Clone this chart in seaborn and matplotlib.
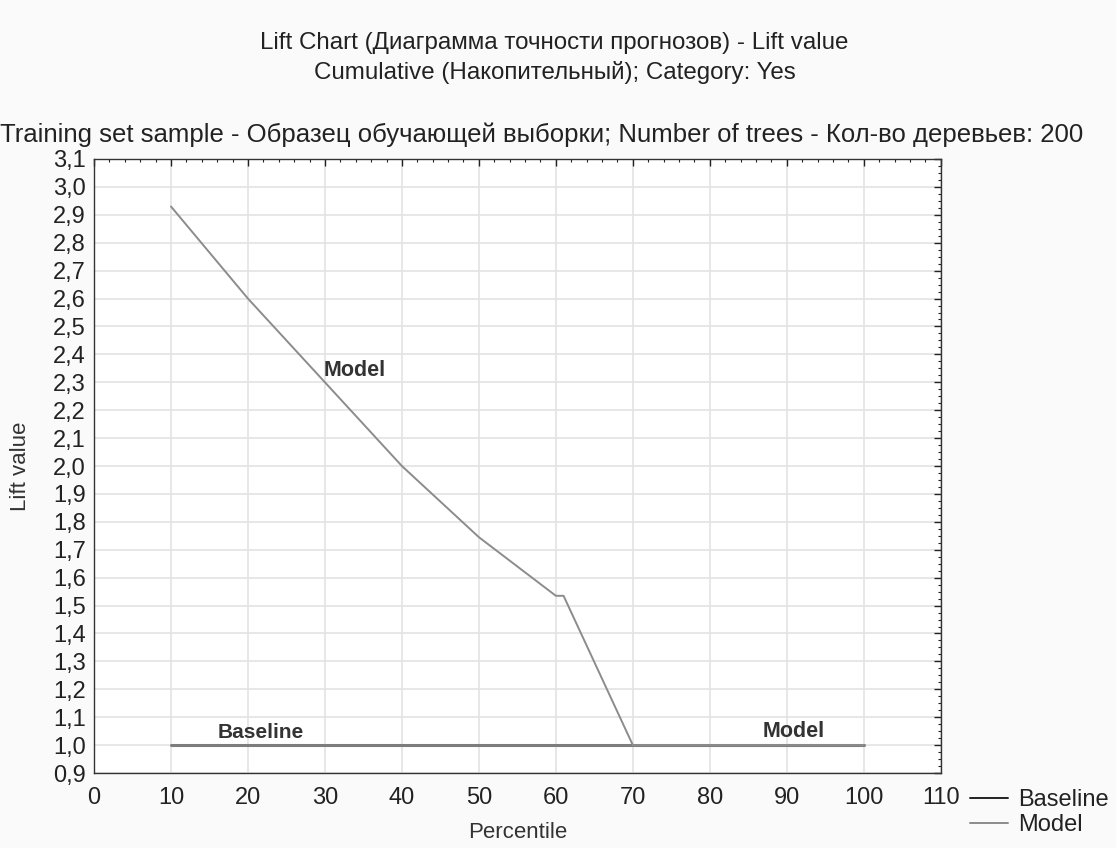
import matplotlib
matplotlib.use("Agg")
import matplotlib.pyplot as plt
import seaborn as sns
import pandas as pd
from matplotlib.ticker import MultipleLocator, FuncFormatter

percentile_model = [10, 20, 30, 40, 50, 60, 61, 70, 80, 90, 100]
lift_model = [2.93, 2.60, 2.30, 2.00, 1.745, 1.535, 1.535, 1.00, 1.00, 1.00, 1.00]
percentile_base = [10, 100]
lift_base = [1.00, 1.00]

sns.set_theme(style="white")
plt.rcParams['font.family'] = ['Liberation Sans', 'DejaVu Sans']

df_m = pd.DataFrame({"Percentile": percentile_model, "Lift": lift_model})
df_b = pd.DataFrame({"Percentile": percentile_base, "Lift": lift_base})

fig = plt.figure(figsize=(11.16, 8.48), dpi=100, facecolor="#fafafa")
ax = fig.add_axes([0.0842, 0.0884, 0.7588, 0.7241])
ax.set_facecolor("white")

sns.lineplot(data=df_b, x="Percentile", y="Lift", ax=ax, color="#7d7d7d", lw=2.2, label="Baseline", zorder=3)
sns.lineplot(data=df_m, x="Percentile", y="Lift", ax=ax, color="#8c8c8c", lw=1.4, label="Model", zorder=4)

ax.set_xlim(0, 110)
ax.set_ylim(0.9, 3.1)
ax.xaxis.set_major_locator(MultipleLocator(10))
ax.xaxis.set_minor_locator(MultipleLocator(2))
ax.yaxis.set_major_locator(MultipleLocator(0.1))
ax.yaxis.set_minor_locator(MultipleLocator(0.025))
ax.yaxis.set_major_formatter(FuncFormatter(lambda v, p: f"{v:.1f}".replace(".", ",")))
ax.grid(True, which="major", color="#e3e3e3", lw=1.2)
ax.tick_params(which="major", direction="in", length=5, width=1, top=True, right=True, labelsize=17, colors="#222222")
ax.tick_params(which="minor", direction="in", length=2.5, width=0.8, top=True, right=True, colors="#222222")
ax.tick_params(axis="x", which="major", pad=10)
ax.tick_params(axis="y", which="major", pad=6)
for s in ax.spines.values():
    s.set_color("#333333")
    s.set_linewidth(1.0)

ax.set_xlabel("Percentile", fontsize=16, color="#333333")
ax.set_ylabel("Lift value", fontsize=16, color="#333333")
ax.xaxis.set_label_coords(0.5, -0.080)
ax.yaxis.set_label_coords(-0.074, 0.5)

ax.text(29.8, 2.305, "Model", fontsize=15.5, fontweight="bold", color="#333333", va="bottom", ha="left")
ax.text(16, 1.012, "Baseline", fontsize=15, fontweight="bold", color="#333333", va="bottom", ha="left")
ax.text(86.8, 1.012, "Model", fontsize=15.5, fontweight="bold", color="#333333", va="bottom", ha="left")

ax.get_legend().remove()
handles, labels = ax.get_legend_handles_labels()
leg = fig.legend(handles, labels, loc="upper left", bbox_to_anchor=(0.869, 0.069), frameon=False,
                 fontsize=17, handlelength=1.6, handletextpad=0.45, labelspacing=0.1, borderaxespad=0,
                 borderpad=0)
leg_lines = leg.get_lines()
leg_lines[0].set_color("#222222")
leg_lines[0].set_linewidth(1.4)
leg_lines[1].set_color("#8c8c8c")
leg_lines[1].set_linewidth(1.4)
for t in leg.get_texts():
    t.set_color("#222222")

fig.text(0.497, 0.949, "Lift Chart (Диаграмма точности прогнозов) - Lift value", ha="center", va="center", fontsize=17.4, color="#222222")
fig.text(0.497, 0.914, "Cumulative (Накопительный); Category: Yes", ha="center", va="center", fontsize=17.4, color="#222222")
fig.text(0.0, 0.841, "Training set sample - Образец обучающей выборки; Number of trees - Кол-во деревьев: 200", ha="left", va="center", fontsize=18.5, color="#222222")

fig.savefig("out.png", dpi=100, facecolor=fig.get_facecolor())
